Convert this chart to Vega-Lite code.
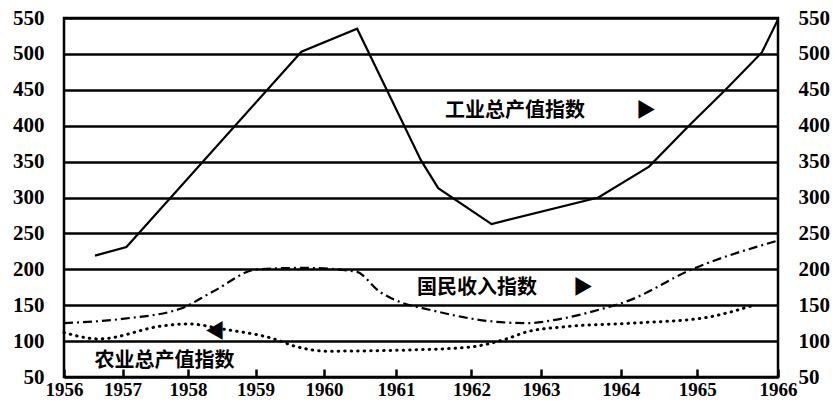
{
  "$schema": "https://vega.github.io/schema/vega-lite/v6.json",
  "width": 714,
  "height": 359,
  "autosize": {"type": "none"},
  "padding": {"left": 64, "top": 18, "right": 57, "bottom": 26},
  "background": "white",
  "config": {
    "view": {"stroke": "black", "strokeWidth": 2.5},
    "axis": {
      "labelFont": "Liberation Serif",
      "labelFontWeight": "bold",
      "labelFontSize": 21,
      "labelColor": "black",
      "domain": false,
      "labelOverlap": false,
      "labelFlush": false,
      "title": null
    }
  },
  "datasets": {
    "lines": [
      {"series": "工业总产值指数", "year": 1956.53, "value": 219},
      {"series": "工业总产值指数", "year": 1957.06, "value": 231},
      {"series": "工业总产值指数", "year": 1959.67, "value": 503},
      {"series": "工业总产值指数", "year": 1960.46, "value": 535},
      {"series": "工业总产值指数", "year": 1961.33, "value": 352},
      {"series": "工业总产值指数", "year": 1961.56, "value": 313},
      {"series": "工业总产值指数", "year": 1962.29, "value": 263},
      {"series": "工业总产值指数", "year": 1963.72, "value": 300},
      {"series": "工业总产值指数", "year": 1964.37, "value": 343},
      {"series": "工业总产值指数", "year": 1964.89, "value": 400},
      {"series": "工业总产值指数", "year": 1965.35, "value": 450},
      {"series": "工业总产值指数", "year": 1965.8, "value": 502},
      {"series": "工业总产值指数", "year": 1966.0, "value": 548},
      {"series": "国民收入指数", "year": 1956.0, "value": 125},
      {"series": "国民收入指数", "year": 1957.0, "value": 131},
      {"series": "国民收入指数", "year": 1957.88, "value": 145},
      {"series": "国民收入指数", "year": 1958.37, "value": 169},
      {"series": "国民收入指数", "year": 1959.03, "value": 200},
      {"series": "国民收入指数", "year": 1959.7, "value": 202},
      {"series": "国民收入指数", "year": 1960.44, "value": 197},
      {"series": "国民收入指数", "year": 1960.77, "value": 169},
      {"series": "国民收入指数", "year": 1961.09, "value": 153},
      {"series": "国民收入指数", "year": 1961.35, "value": 146},
      {"series": "国民收入指数", "year": 1962.34, "value": 127},
      {"series": "国民收入指数", "year": 1962.8, "value": 125},
      {"series": "国民收入指数", "year": 1963.2, "value": 130},
      {"series": "国民收入指数", "year": 1963.8, "value": 146},
      {"series": "国民收入指数", "year": 1964.07, "value": 155},
      {"series": "国民收入指数", "year": 1964.93, "value": 200},
      {"series": "国民收入指数", "year": 1966.0, "value": 240},
      {"series": "农业总产值指数", "year": 1956.0, "value": 112},
      {"series": "农业总产值指数", "year": 1956.6, "value": 103},
      {"series": "农业总产值指数", "year": 1957.6, "value": 121},
      {"series": "农业总产值指数", "year": 1958.0, "value": 124},
      {"series": "农业总产值指数", "year": 1958.5, "value": 117},
      {"series": "农业总产值指数", "year": 1959.27, "value": 103},
      {"series": "农业总产值指数", "year": 1959.57, "value": 93},
      {"series": "农业总产值指数", "year": 1960.04, "value": 86},
      {"series": "农业总产值指数", "year": 1961.3, "value": 88},
      {"series": "农业总产值指数", "year": 1962.0, "value": 92},
      {"series": "农业总产值指数", "year": 1962.5, "value": 103},
      {"series": "农业总产值指数", "year": 1962.8, "value": 113},
      {"series": "农业总产值指数", "year": 1963.3, "value": 120},
      {"series": "农业总产值指数", "year": 1964.15, "value": 125},
      {"series": "农业总产值指数", "year": 1965.06, "value": 132},
      {"series": "农业总产值指数", "year": 1965.7, "value": 150}
    ],
    "labels": [
      {"text": "工业总产值指数", "year": 1961.65, "value": 421},
      {"text": "▶", "year": 1964.2, "value": 421},
      {"text": "国民收入指数", "year": 1961.28, "value": 174},
      {"text": "▶", "year": 1963.4, "value": 174},
      {"text": "◀", "year": 1958.25, "value": 113},
      {"text": "农业总产值指数", "year": 1956.52, "value": 72}
    ]
  },
  "layer": [
    {
      "data": {"name": "lines"},
      "transform": [{"filter": "datum.series === '工业总产值指数'"}],
      "mark": {"type": "line", "color": "black", "strokeWidth": 2.2},
      "encoding": {
        "x": {
          "field": "year", "type": "quantitative",
          "scale": {"type": "linear", "domain": [1956, 1957, 1958, 1959, 1960, 1961, 1962, 1963, 1964, 1965, 1966],
                    "range": [0, 58.5, 124, 191.6, 260, 332, 407.4, 477, 556.7, 633.3, 714], "nice": false, "zero": false},
          "axis": {"orient": "bottom", "values": [1956, 1957, 1958, 1959, 1960, 1961, 1962, 1963, 1964, 1965, 1966],
                   "format": "d", "ticks": true, "tickSize": 8, "tickWidth": 2.5, "tickColor": "black", "offset": -8,
                   "labelPadding": 3, "grid": false, "labelFontSize": 19}
        },
        "y": {
          "field": "value", "type": "quantitative",
          "scale": {"domain": [50, 550], "nice": false, "zero": false},
          "axis": {"orient": "left", "values": [50, 100, 150, 200, 250, 300, 350, 400, 450, 500, 550],
                   "ticks": false, "labelPadding": 20, "grid": true, "gridColor": "black", "gridWidth": 2.5, "gridOpacity": 1}
        }
      }
    },
    {
      "data": {"name": "lines"},
      "transform": [{"filter": "datum.series === '国民收入指数'"}],
      "mark": {"type": "line", "color": "black", "strokeWidth": 2.2, "strokeDash": [9, 4, 2, 4], "interpolate": "monotone"},
      "encoding": {
        "x": {"field": "year", "type": "quantitative"},
        "y": {
          "field": "value", "type": "quantitative",
          "axis": {"orient": "right", "values": [50, 100, 150, 200, 250, 300, 350, 400, 450, 500, 550],
                   "ticks": false, "labelPadding": 20, "grid": false}
        }
      }
    },
    {
      "data": {"name": "lines"},
      "transform": [{"filter": "datum.series === '农业总产值指数'"}],
      "mark": {"type": "line", "color": "black", "strokeWidth": 3, "strokeDash": [0.5, 6], "strokeCap": "round", "interpolate": "monotone"},
      "encoding": {
        "x": {"field": "year", "type": "quantitative"},
        "y": {"field": "value", "type": "quantitative", "axis": null}
      }
    },
    {
      "data": {"name": "labels"},
      "mark": {"type": "text", "align": "left", "baseline": "middle", "font": "Noto Sans CJK SC", "fontWeight": "bold", "fontSize": 20, "color": "black"},
      "encoding": {
        "x": {"field": "year", "type": "quantitative"},
        "y": {"field": "value", "type": "quantitative", "axis": null},
        "text": {"field": "text"}
      }
    }
  ],
  "resolve": {"axis": {"y": "independent"}}
}
